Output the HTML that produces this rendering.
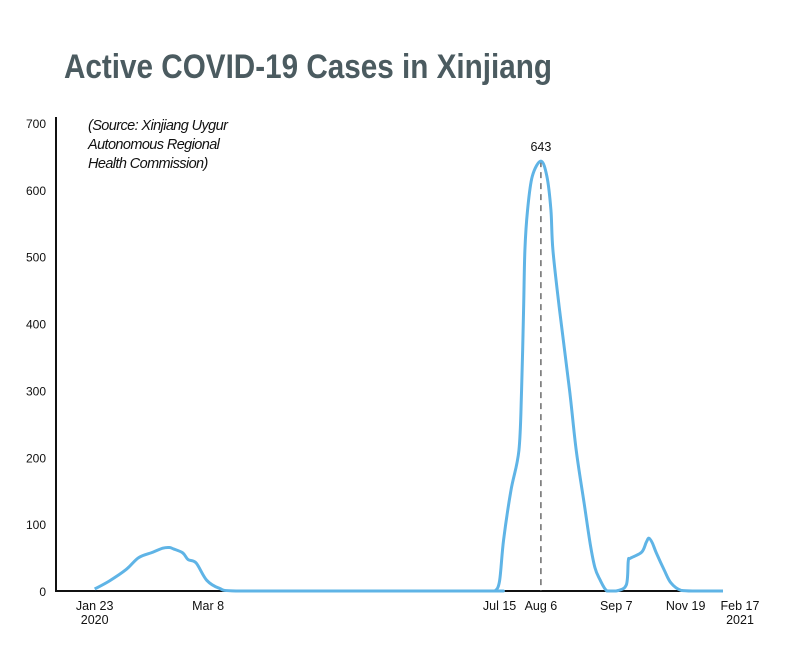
<!DOCTYPE html>
<html><head><meta charset="utf-8">
<style>
body{margin:0;background:#fff;width:800px;height:642px;overflow:hidden}
svg text{font-family:"Liberation Sans",sans-serif}
</style></head>
<body>
<svg id="chart" width="800" height="642" xmlns="http://www.w3.org/2000/svg">
<text x="64" y="78" font-size="34" font-weight="bold" fill="#4b5b60" style="font-family:'Liberation Sans Narrow','Liberation Sans',sans-serif" textLength="488" lengthAdjust="spacingAndGlyphs">Active COVID-19 Cases in Xinjiang</text>
<g font-size="14.5" font-style="italic" fill="#111">
<text x="88" y="130" letter-spacing="-0.6">(Source: Xinjiang Uygur</text>
<text x="88" y="149" letter-spacing="-0.6">Autonomous Regional</text>
<text x="88" y="168" letter-spacing="-0.6">Health Commission)</text>
</g>
<g id="axes"></g>
<g id="marks"></g>
</svg>
<script>
// x positions are in "timeline units" (non-linear date axis), 0..100
const xs = [5.8,8,10.5,12.4,14.5,16,17,17.6,19,19.8,21,22.6,24.5,27,40,65,65.8,66.5,67.1,68.2,69.4,69.8,70.1,70.3,70.7,71.4,72.7,73.6,74.2,74.5,75.5,77,78,79.2,80.1,80.8,81.5,82.6,84,85.5,85.8,86.1,87.8,88.5,88.9,89.4,90,91.2,92.2,93.7,96,100];
const values = [3,15,32,50,58,64,65,63,57,47,42,16,4,0,0,0,0,15,76,150,210,300,420,510,570,620,643,620,570,510,420,300,210,130,70,35,18,0,0,9,45,49,58,73,79,72,57,31,12,1,0,0];
const yTicks = [0,100,200,300,400,500,600,700];
const xTickPos = [5.8,22.8,66.5,72.7,84,94.4,100];
const xTickLabels = [["Jan 23","2020"],["Mar 8"],["Jul 15"],["Aug 6"],["Sep 7"],["Nov 19"],["Feb 17","2021"]];
const peakIndex = 26;

const X0=56,X1=723,Y0=591,Y1=123;
const sx=u=>X0+(X1-X0)*u/100;
const sy=v=>Y0-(Y0-Y1)*v/700;
const NS="http://www.w3.org/2000/svg";
const axes=document.getElementById('axes'), marks=document.getElementById('marks');
function mk(t,a,p){const e=document.createElementNS(NS,t);for(const k in a)e.setAttribute(k,a[k]);p.appendChild(e);return e;}

yTicks.forEach(v=>{
 const t=mk('text',{x:46,y:sy(v)+5,'font-size':12,'text-anchor':'end',fill:'#111'},axes);
 t.textContent=v;
 
 
});
xTickPos.forEach((u,i)=>{
 const lines=xTickLabels[i];
 lines.forEach((s,j)=>{
  const t=mk('text',{x:sx(u)+(i===6?17:(i===0?0:0)),y:610+j*14,'font-size':12.5,'text-anchor':'middle',fill:'#111'},axes);
  t.textContent=s;
  
  
 });
});
const ya=mk('line',{x1:X0,y1:117,x2:X0,y2:Y0+1,stroke:'#111','stroke-width':2},axes);


const xa=mk('line',{x1:X0-1,y1:Y0,x2:X1,y2:Y0,stroke:'#111','stroke-width':2},axes);



const px=xs[peakIndex],pv=values[peakIndex];
const dl=mk('line',{x1:sx(px),y1:sy(pv),x2:sx(px),y2:Y0,stroke:'#555','stroke-width':1.3,'stroke-dasharray':'6,5'},marks);


const pl=mk('text',{x:sx(px),y:sy(pv)-10,'font-size':12.5,'text-anchor':'middle',fill:'#111'},marks);
pl.textContent=pv;



const pts=xs.map((u,i)=>[sx(u),sy(values[i])]);
let d='M'+pts[0][0]+','+pts[0][1];
for(let i=0;i<pts.length-1;i++){
 const p0=pts[i-1]||pts[i],p1=pts[i],p2=pts[i+1],p3=pts[i+2]||p2;
 const c1x=p1[0]+(p2[0]-p0[0])/6,c1y=p1[1]+(p2[1]-p0[1])/6;
 const c2x=p2[0]-(p3[0]-p1[0])/6,c2y=p2[1]-(p3[1]-p1[1])/6;
 d+=` C${c1x},${Math.min(c1y,Y0)} ${c2x},${Math.min(c2y,Y0)} ${p2[0]},${p2[1]}`;
}
const line=mk('path',{d:d,fill:'none',stroke:'#5fb4e6','stroke-width':3,'stroke-linejoin':'round'},marks);


</script>
</body></html>
